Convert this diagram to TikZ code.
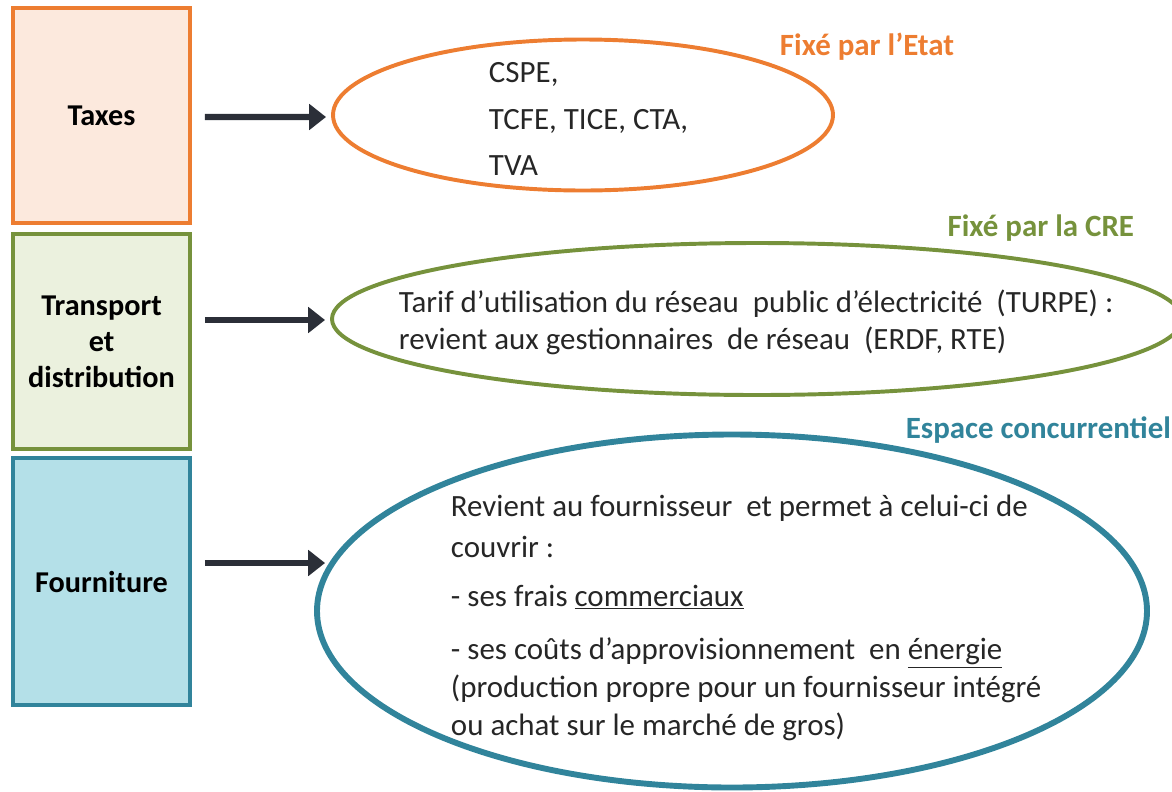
\documentclass[tikz,border=0pt]{standalone}
\usepackage{fontspec}
\setmainfont{Carlito}
\usepackage{xcolor}
\usepackage{tikz}
\usetikzlibrary{arrows.meta,shapes.geometric}

\definecolor{taxorange}{HTML}{ED7D31}
\definecolor{taxfill}{HTML}{FCE9DD}
\definecolor{creolive}{HTML}{76923C}
\definecolor{crefill}{HTML}{EBF1DE}
\definecolor{concteal}{HTML}{31849B}
\definecolor{concfill}{HTML}{B4E0E8}
\definecolor{arrowgray}{HTML}{2B2F38}
\definecolor{textgray}{HTML}{262626}

\begin{document}
\begin{tikzpicture}[x=0.025cm,y=-0.025cm,
    part/.style={draw,line width=2.7pt,minimum width=177*0.025cm,
      text=black,font=\fontsize{21.5}{25.6}\selectfont\bfseries,align=center},
    bubble/.style={draw,ellipse,inner sep=0pt},
    bubbletext/.style={anchor=west,align=left,text=textgray,
      font=\fontsize{22}{26.3}\selectfont},
    tag/.style={font=\fontsize{22}{26}\selectfont\bfseries},
    link/.style={line width=4.3pt,color=arrowgray,
      -{Triangle[length=12pt,width=18pt]}}]
    \useasboundingbox (0,0) rectangle (1172,791);
    % left column
    \node[part,color=taxorange,fill=taxfill,minimum height=215*0.025cm]
      (taxes) at (101.5,115.5) {\textcolor{black}{Taxes}};
    \node[part,color=creolive,fill=crefill,minimum height=215*0.025cm]
      (transport) at (101.5,341.5)
      {\textcolor{black}{Transport}\\\textcolor{black}{et}\\\textcolor{black}{distribution}};
    \node[part,color=concteal,fill=concfill,minimum height=247*0.025cm]
      (fourniture) at (101.5,581.5) {\textcolor{black}{Fourniture}};
    % ellipses
    \node[bubble,draw=taxorange,line width=2.8pt,
      minimum width=500*0.025cm,minimum height=151*0.025cm]
      (etat) at (583,115) {};
    \node[bubble,draw=creolive,line width=2.8pt,
      minimum width=850*0.025cm,minimum height=152*0.025cm]
      (cre) at (757,319) {};
    \node[bubble,draw=concteal,line width=4.2pt,
      minimum width=830*0.025cm,minimum height=353*0.025cm]
      (marche) at (732,611) {};
    % texts
    \node[bubbletext,font=\fontsize{22}{33}\selectfont] (etattext) at (484,119)
      {CSPE,\\TCFE, TICE, CTA,\\TVA};
    \node[bubbletext] (cretext) at (394,322)
      {Tarif d’utilisation du réseau~ public d’électricité~ (TURPE) :\\
       revient aux gestionnaires~ de réseau~ (ERDF, RTE)};
    \node[bubbletext,font=\fontsize{22}{27}\selectfont] (marchetext) at (446,618)
      {Revient au fournisseur~ et permet à celui-ci de\\[2pt]
       couvrir :\\[8pt]
       - ses frais \underline{commerciaux}\\[11pt]
       - ses coûts d’approvisionnement~ en \underline{énergie}\\
       (production propre pour un fournisseur intégré\\
       ou achat sur le marché de gros)};
    \node[tag,text=taxorange,anchor=west] (etattag) at (775,47) {Fixé par l’Etat};
    \node[tag,text=creolive,anchor=east] (cretag) at (1139,228) {Fixé par la CRE};
    \node[tag,text=concteal,anchor=east] (marchetag) at (1176,430) {Espace concurrentiel};
    % arrows
    \draw[link] ([shift={(13,1.5)}]taxes.east) -- ([shift={(-5,2)}]etat.west);
    \draw[link] ([shift={(13,-21.5)}]transport.east) -- ([shift={(-5,1)}]cre.west);
    \draw[link] ([shift={(13,-18.5)}]fourniture.east) -- ([shift={(11,-48)}]marche.west);
\end{tikzpicture}
\end{document}
